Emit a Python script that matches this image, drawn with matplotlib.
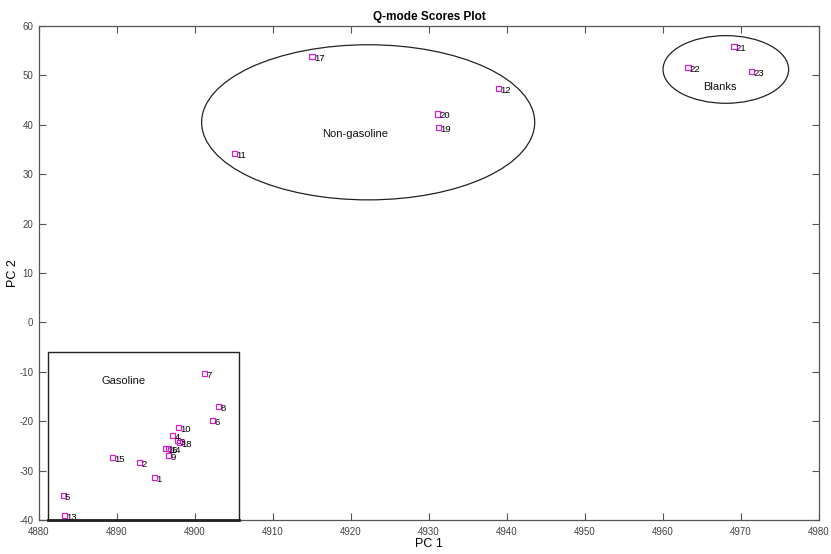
import matplotlib
matplotlib.use("Agg")
import matplotlib.pyplot as plt
from matplotlib.patches import Ellipse, Rectangle

# Sample scores on the first two principal components
sample_ids = ["1", "2", "3", "4", "5", "6", "7", "8", "9", "10", "11", "12",
              "13", "14", "15", "16", "17", "18", "19", "20", "21", "22", "23"]
pc1 = [4894.8, 4892.9, 4897.8, 4897.1, 4883.1, 4902.2, 4901.2, 4903.0, 4896.6,
       4897.9, 4905.1, 4938.9, 4883.3, 4896.6, 4889.4, 4896.2, 4915.0, 4898.0,
       4931.2, 4931.1, 4969.1, 4963.2, 4971.3]
pc2 = [-31.4, -28.3, -23.9, -22.9, -35.1, -19.8, -10.3, -17.1, -27.0,
       -21.2, 34.2, 47.4, -39.1, -25.6, -27.3, -25.5, 53.9, -24.3,
       39.4, 42.2, 55.8, 51.6, 50.75]

# Group outlines: (centre x, centre y, width, height)
nongas_ellipse = (4922.2, 40.5, 42.7, 31.4)
blanks_ellipse = (4968.05, 51.2, 16.1, 13.7)
gasoline_box = (4881.2, -40.0, 24.4, 34.0)  # (x0, y0, width, height)

group_labels = ["Gasoline", "Non-gasoline", "Blanks"]
group_label_x = [4890.8, 4920.5, 4967.3]
group_label_y = [-11.9, 38.1, 47.7]

xticks = list(range(4880, 4981, 10))
yticks = list(range(-40, 61, 10))

plt.rcParams["font.family"] = ["Liberation Sans", "DejaVu Sans"]
plt.rcParams["axes.unicode_minus"] = False

fig = plt.figure(figsize=(8.31, 5.54), dpi=100)
ax = fig.add_axes([0.0469, 0.0614, 0.9387, 0.8917])

ax.scatter(pc1, pc2, marker="s", s=14, facecolors="none",
           edgecolors="#d020d0", linewidths=0.9, zorder=3)
for sid, x, y in zip(sample_ids, pc1, pc2):
    ax.text(x + 0.25, y - 0.4, sid, fontsize=6.8, color="black",
            ha="left", va="center", zorder=4)

cx, cy, w, h = nongas_ellipse
ax.add_patch(Ellipse((cx, cy), w, h, fill=False, edgecolor="#222222", lw=0.9))
cx, cy, w, h = blanks_ellipse
ax.add_patch(Ellipse((cx, cy), w, h, fill=False, edgecolor="#222222", lw=0.9))
x0, y0, bw, bh = gasoline_box
ax.add_patch(Rectangle((x0, y0), bw, bh, fill=False, edgecolor="#222222",
                       lw=1.0, clip_on=False))
ax.plot([x0, x0 + bw], [y0, y0], color="#222222", lw=2.0, clip_on=False, zorder=5)

for txt, x, y in zip(group_labels, group_label_x, group_label_y):
    ax.text(x, y, txt, fontsize=8, ha="center", va="center", color="#111111")

ax.set_xlim(4880, 4980)
ax.set_ylim(-40, 60)
ax.set_xticks(xticks)
ax.set_yticks(yticks)
ax.tick_params(direction="in", length=5, width=0.8, top=True, right=True,
               labelsize=7, labelcolor="#444444", color="#555555")
ax.tick_params(axis="x", pad=5)
ax.tick_params(axis="y", pad=4)
for sp in ax.spines.values():
    sp.set_color("#555555")
    sp.set_linewidth(0.9)

ax.set_title("Q-mode Scores Plot", fontsize=8.5, fontweight="bold", pad=4)
ax.set_xlabel("PC 1", fontsize=9, labelpad=1)
ax.set_ylabel("PC 2", fontsize=9, labelpad=0)

fig.savefig("out.png", dpi=100)
